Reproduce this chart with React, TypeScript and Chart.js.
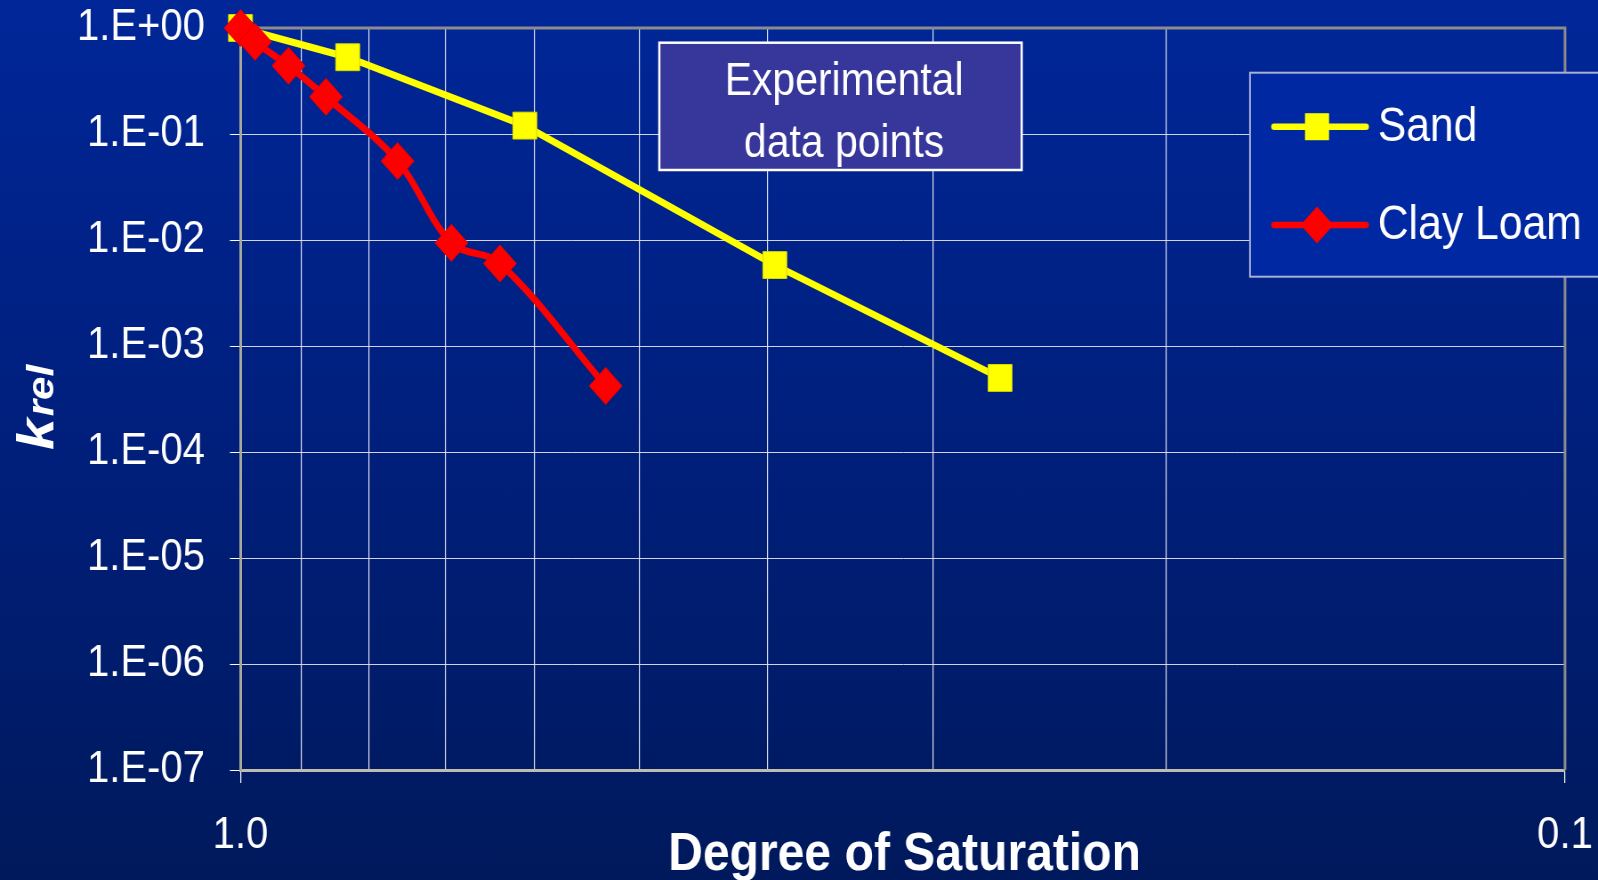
import React, { useEffect, useRef } from 'react';
import { Chart, registerables } from 'chart.js';

Chart.register(...registerables);

// ---------- data ----------
const seriesNames = ['Sand', 'Clay Loam'];
const sandX = [1.0, 0.83, 0.61, 0.395, 0.267];
const sandY = [1.0, 0.53, 0.12, 0.0058, 0.0005];
const clayX = [1.0, 0.975, 0.92, 0.862, 0.761, 0.693, 0.637, 0.53];
const clayY = [1.0, 0.74, 0.44, 0.224, 0.0555, 0.0094, 0.006, 0.00042];

const yTickValues = [1, 1e-1, 1e-2, 1e-3, 1e-4, 1e-5, 1e-6, 1e-7];
const xGridValues = [1.0, 0.9, 0.8, 0.7, 0.6, 0.5, 0.4, 0.3, 0.2, 0.1];
const xLabelValues = [1.0, 0.1];
const xLabelTexts = ['1.0', '0.1'];

const xTitle = 'Degree of Saturation';
const yTitleMain = 'k';
const yTitleSub = 'rel';
const noteLines = ['Experimental', 'data points'];

// ---------- styles ----------
const FONT = '"Liberation Sans", Arial, Helvetica, sans-serif';
const LOGICAL_W = 1796;
const H = 880;
const SX = 1598 / LOGICAL_W;
const SAND_COLOR = '#ffff00';
const CLAY_COLOR = '#ff0000';

const fmtY = (v: number) => {
  const e = Math.round(Math.log10(v));
  const s = e >= 0 ? '+' : '-';
  return `1.E${s}${String(Math.abs(e)).padStart(2, '0')}`;
};

const isLabelX = (v: number) => xLabelValues.some((x) => Math.abs(x - v) < 1e-9);

const drawSquare = (ctx: CanvasRenderingContext2D, x: number, y: number, half: number, color: string) => {
  ctx.fillStyle = color;
  ctx.fillRect(x - half, y - half, half * 2, half * 2);
};
const drawDiamond = (ctx: CanvasRenderingContext2D, x: number, y: number, r: number, color: string) => {
  ctx.fillStyle = color;
  ctx.beginPath();
  ctx.moveTo(x - r, y);
  ctx.lineTo(x, y - r);
  ctx.lineTo(x + r, y);
  ctx.lineTo(x, y + r);
  ctx.closePath();
  ctx.fill();
};

const zeroPad = (s: any) => {
  s.paddingTop = 0;
  s.paddingBottom = 0;
  s.paddingLeft = 0;
  s.paddingRight = 0;
};

const decorPlugin = {
  id: 'decor',
  beforeDatasetsDraw(chart: any) {
    const { ctx, chartArea: a } = chart;
    ctx.save();
    ctx.strokeStyle = '#8c8c8c';
    ctx.lineWidth = 3;
    ctx.beginPath();
    ctx.moveTo(a.left, a.top);
    ctx.lineTo(a.right, a.top);
    ctx.lineTo(a.right, a.bottom);
    ctx.stroke();
    ctx.restore();
  },
  afterDraw(chart: any) {
    const { ctx, chartArea: a } = chart;
    ctx.save();

    // note box
    const bx = 741, by = 42.7, bw = 407.3, bh = 127.3;
    ctx.fillStyle = '#37369a';
    ctx.fillRect(bx, by, bw, bh);
    ctx.strokeStyle = '#ffffff';
    ctx.lineWidth = 2.5;
    ctx.strokeRect(bx, by, bw, bh);
    ctx.fillStyle = '#ffffff';
    ctx.font = `46px ${FONT}`;
    ctx.textAlign = 'center';
    ctx.textBaseline = 'alphabetic';
    ctx.fillText(noteLines[0], bx + bw / 2 + 4, 95);
    ctx.fillText(noteLines[1], bx + bw / 2 + 4, 156.5);

    // legend box
    const lx = 1404.9, ly = 72.7, lh = 204;
    ctx.fillStyle = '#0028a2';
    ctx.fillRect(lx, ly, LOGICAL_W - lx + 10, lh);
    ctx.strokeStyle = '#a9b0d6';
    ctx.lineWidth = 2;
    ctx.strokeRect(lx, ly, LOGICAL_W - lx + 10, lh);

    const rows = [
      { name: seriesNames[0], color: SAND_COLOR, y: 126.7, marker: 'square' },
      { name: seriesNames[1], color: CLAY_COLOR, y: 225, marker: 'diamond' },
    ];
    rows.forEach((r) => {
      ctx.strokeStyle = r.color;
      ctx.lineWidth = 6.5;
      ctx.lineCap = 'round';
      ctx.beginPath();
      ctx.moveTo(1431.9, r.y);
      ctx.lineTo(1535.3, r.y);
      ctx.stroke();
      if (r.marker === 'square') drawSquare(ctx, 1480.2, r.y, 13.5, r.color);
      else drawDiamond(ctx, 1480.2, r.y, 18.5, r.color);
      ctx.fillStyle = '#ffffff';
      ctx.font = `48px ${FONT}`;
      ctx.textAlign = 'left';
      ctx.textBaseline = 'middle';
      ctx.fillText(r.name, 1548.4, r.y + 1);
    });

    // x title
    ctx.fillStyle = '#ffffff';
    ctx.font = `bold 54px ${FONT}`;
    ctx.textAlign = 'center';
    ctx.textBaseline = 'alphabetic';
    ctx.fillText(xTitle, (a.left + a.right) / 2 + 2, 870);

    // y title (k_rel)
    ctx.translate(60, 450);
    ctx.rotate(-Math.PI / 2);
    ctx.textAlign = 'left';
    ctx.font = `italic bold 57px ${FONT}`;
    ctx.fillText(yTitleMain, 0, 0);
    const kw = ctx.measureText(yTitleMain).width;
    ctx.font = `italic bold 42px ${FONT}`;
    ctx.fillText(yTitleSub, kw + 2, 0);

    ctx.restore();
  },
};

export default function App() {
  const canvasRef = useRef<HTMLCanvasElement | null>(null);

  useEffect(() => {
    document.body.style.margin = '0';
    document.body.style.overflow = 'hidden';
    const canvas = canvasRef.current;
    if (!canvas) return;

    const chart = new Chart(canvas, {
      type: 'line',
      data: {
        datasets: [
          {
            label: seriesNames[0],
            data: sandX.map((x, i) => ({ x, y: sandY[i] })),
            borderColor: SAND_COLOR,
            backgroundColor: SAND_COLOR,
            borderWidth: 7,
            borderJoinStyle: 'round',
            pointStyle: 'rect',
            pointRadius: 19,
            pointBorderWidth: 1,
            pointBorderColor: '#d8d800',
            pointBackgroundColor: SAND_COLOR,
            tension: 0,
            clip: false,
            order: 2,
          },
          {
            label: seriesNames[1],
            data: clayX.map((x, i) => ({ x, y: clayY[i] })),
            borderColor: CLAY_COLOR,
            backgroundColor: CLAY_COLOR,
            borderWidth: 7,
            borderJoinStyle: 'round',
            pointStyle: 'rectRot',
            pointRadius: 18.5,
            pointBorderWidth: 1,
            pointBorderColor: '#e00000',
            pointBackgroundColor: CLAY_COLOR,
            tension: 0.35,
            clip: false,
            order: 1,
          },
        ],
      },
      options: {
        animation: false,
        responsive: true,
        maintainAspectRatio: false,
        layout: { padding: { top: 28, right: 37.1, left: 0, bottom: 0 } },
        plugins: {
          legend: { display: false },
          tooltip: { enabled: false },
          title: { display: false },
        },
        scales: {
          x: {
            type: 'logarithmic',
            reverse: true,
            min: 0.1,
            max: 1,
            afterBuildTicks: (s: any) => {
              s.ticks = xGridValues.map((v) => ({ value: v }));
            },
            afterFit: (s: any) => {
              s.height = H - 770;
              zeroPad(s);
            },
            ticks: {
              autoSkip: false,
              maxRotation: 0,
              color: '#ffffff',
              padding: 26,
              font: { family: FONT, size: 45 },
              callback: (v: any) => {
                const n = Number(v);
                const i = xLabelValues.findIndex((x) => Math.abs(x - n) < 1e-9);
                return i >= 0 ? xLabelTexts[i] : '';
              },
            },
            grid: {
              color: 'rgba(235,236,246,0.95)',
              lineWidth: 1.2,
              tickLength: 13,
              tickColor: (c: any) => (c.tick && isLabelX(c.tick.value) ? '#ffffff' : 'rgba(0,0,0,0)'),
            },
            border: { color: '#bcbcb2', width: 3 },
          },
          y: {
            type: 'logarithmic',
            min: 1e-7,
            max: 1,
            afterBuildTicks: (s: any) => {
              s.ticks = yTickValues.map((v) => ({ value: v }));
            },
            afterFit: (s: any) => {
              s.width = 270.3;
              zeroPad(s);
            },
            ticks: {
              autoSkip: false,
              color: '#ffffff',
              padding: 28,
              font: { family: FONT, size: 45 },
              callback: (v: any) => fmtY(Number(v)),
            },
            grid: {
              color: 'rgba(230,232,244,0.9)',
              lineWidth: 1,
              tickLength: 12,
              tickColor: '#ffffff',
            },
            border: { color: '#a9a99a', width: 3 },
          },
        },
      },
      plugins: [decorPlugin],
    } as any);

    return () => chart.destroy();
  }, []);

  return (
    <div
      style={{
        width: 1598,
        height: H,
        overflow: 'hidden',
        position: 'relative',
        background: 'linear-gradient(to bottom, #002698 0%, #001f7c 50%, #00195c 100%)',
      }}
    >
      <div
        style={{
          width: LOGICAL_W,
          height: H,
          transform: `scaleX(${SX})`,
          transformOrigin: '0 0',
          position: 'absolute',
          left: 0,
          top: 0,
        }}
      >
        <canvas ref={canvasRef} />
      </div>
    </div>
  );
}
